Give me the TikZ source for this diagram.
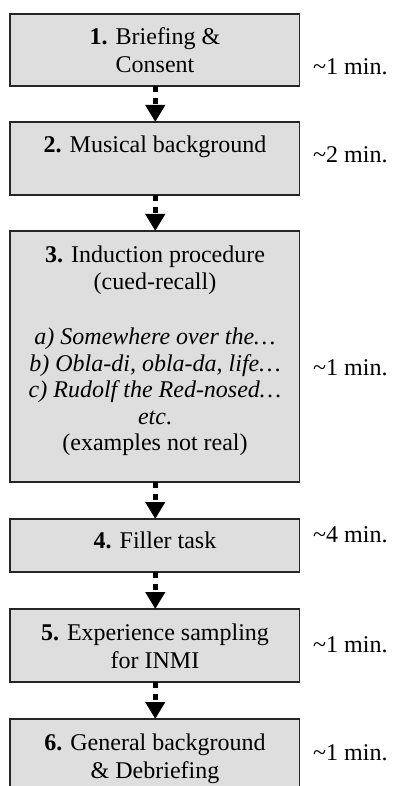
\documentclass[tikz,border=0pt]{standalone}
\usepackage{fontspec}
\setmainfont{Liberation Serif}
\usetikzlibrary{arrows.meta}
\tikzset{
  stepbox/.style={draw=black!85, line width=1.2pt, fill=black!13, inner sep=0pt, outer sep=0pt,
    minimum width=289.5pt, anchor=north west},
  txt/.style={anchor=base, inner sep=0pt, font=\fontsize{24}{27}\selectfont},
  tm/.style={anchor=base west, inner sep=0pt, font=\fontsize{24}{27}\selectfont},
  flow/.style={line width=5.5pt, dash pattern=on 6pt off 6pt, -{Triangle[width=19pt,length=17pt]}}
}
\begin{document}
\begin{tikzpicture}[x=1pt,y=-1pt]
\clip (0,0) rectangle (392,786);
\fill[white] (0,0) rectangle (392,786);
% boxes
\node[stepbox, minimum height=72pt] (b1) at (10,14) {};
\node[stepbox, minimum height=73pt] (b2) at (10,122) {};
\node[stepbox, minimum height=251pt] (b3) at (10,231) {};
\node[stepbox, minimum height=53pt] (b4) at (10,519) {};
\node[stepbox, minimum height=73pt] (b5) at (10,609) {};
\node[stepbox, minimum height=100pt] (b6) at (10,719) {};
% texts
\node[txt] (t1a) at (155,45) {\textbf{1.} Briefing \&};
\node[txt] (t1b) at (155,73) {Consent};
\node[txt] (t2a) at (155,153) {\textbf{2.} Musical background};
\node[txt] (t3a) at (155,262) {\textbf{3.} Induction procedure};
\node[txt] (t3b) at (155,289) {(cued-recall)};
\node[txt] (t3c) at (155,344) {\textit{a) Somewhere over the…}};
\node[txt] (t3d) at (155,371) {\textit{b) Obla-di, obla-da, life…}};
\node[txt] (t3e) at (155,397.5) {\textit{c) Rudolf the Red-nosed…}};
\node[txt] (t3f) at (155,424) {\textit{etc}.};
\node[txt] (t3g) at (155,450.5) {(examples not real)};
\node[txt] (t4a) at (155,548) {\textbf{4.} Filler task};
\node[txt] (t5a) at (155,640) {\textbf{5.} Experience sampling};
\node[txt] (t5b) at (155,668) {for INMI};
\node[txt] (t6a) at (155,750) {\textbf{6.} General background};
\node[txt] (t6b) at (155,778) {\& Debriefing};
% times
\node[tm] (m1) at (313,75) {\textasciitilde1 min.};
\node[tm] (m2) at (313,163) {\textasciitilde2 min.};
\node[tm] (m3) at (313,375) {\textasciitilde1 min.};
\node[tm] (m4) at (313,542) {\textasciitilde4 min.};
\node[tm] (m5) at (313,652) {\textasciitilde1 min.};
\node[tm] (m6) at (313,760) {\textasciitilde1 min.};
% arrows
\draw[flow] ([xshift=0.5pt]b1.south) -- ([xshift=0.5pt]b2.north);
\draw[flow] ([xshift=0.5pt]b2.south) -- ([xshift=0.5pt]b3.north);
\draw[flow] ([xshift=0.5pt]b3.south) -- ([xshift=0.5pt]b4.north);
\draw[flow] ([xshift=0.5pt]b4.south) -- ([xshift=0.5pt]b5.north);
\draw[flow] ([xshift=0.5pt]b5.south) -- ([xshift=0.5pt]b6.north);
\end{tikzpicture}
\end{document}
